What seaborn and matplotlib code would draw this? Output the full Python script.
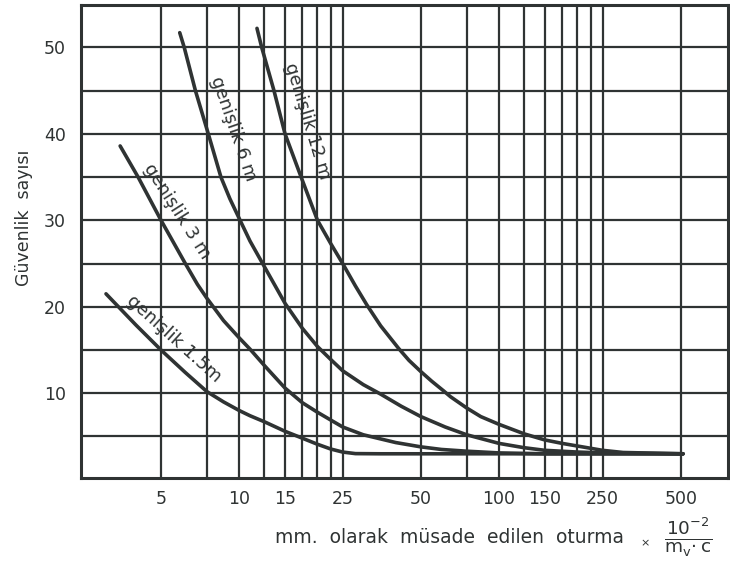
import matplotlib
matplotlib.use("Agg")
import matplotlib.pyplot as plt
import numpy as np
import pandas as pd
import seaborn as sns

# ---- data ----
x_15m = [3.07, 4.0, 5, 6.2, 7.5, 8.7, 10, 11, 12.5, 15, 17.5, 20, 22.5, 25, 28, 35, 510]
y_15m = [21.5, 17.9, 15, 12.4, 10.2, 9.0, 8.0, 7.4, 6.7, 5.6, 4.8, 4.1, 3.55, 3.2, 3.02, 3.0, 3.0]

x_3m = [3.48, 4.08, 5, 6.2, 6.9, 7.5, 8.7, 10, 11, 12.5, 15, 17.5, 20, 22.5, 25, 30, 40, 50, 60, 75, 100, 150, 510]
y_3m = [38.6, 35, 30, 25, 22.6, 21.0, 18.4, 16.4, 15.1, 13.2, 10.6, 8.9, 7.8, 6.9, 6.1, 5.2, 4.3, 3.8, 3.5, 3.3, 3.1, 3.0, 3.0]

x_6m = [5.9, 6.14, 6.78, 7.6, 8.5, 9.2, 10, 11, 12.3, 15, 17.5, 20, 22.5, 25, 30, 35, 42, 50, 62, 75, 100, 125, 150, 200, 250, 510]
y_6m = [51.7, 50, 45, 40, 35, 32.5, 30.2, 27.6, 25, 20.4, 17.5, 15.4, 13.9, 12.6, 11.0, 9.9, 8.5, 7.3, 6.1, 5.2, 4.2, 3.7, 3.4, 3.2, 3.1, 3.0]

x_12m = [11.7, 12.2, 13.6, 15, 17.3, 20, 22.5, 25, 28, 31, 35, 41, 45, 50, 55, 61, 65, 75, 85, 100, 125, 150, 175, 200, 250, 300, 510]
y_12m = [52.2, 50, 45, 40, 35, 30, 27.3, 25, 22.4, 20.2, 17.8, 15.2, 13.8, 12.5, 11.4, 10.3, 9.6, 8.3, 7.3, 6.4, 5.3, 4.6, 4.2, 3.9, 3.4, 3.15, 3.0]

curve_names = ["genişlik 1.5m", "genişlik 3 m", "genişlik 6 m", "genişlik 12 m"]

x_grid = [5, 7.5, 10, 12.5, 15, 17.5, 20, 22.5, 25, 50, 75, 100, 125, 150, 175, 200, 225, 250, 500]
x_labels = ["5", "", "10", "", "15", "", "", "", "25", "50", "", "100", "", "150", "", "", "", "250", "500"]
y_grid = [5, 10, 15, 20, 25, 30, 35, 40, 45, 50]
y_labels = ["", "10", "", "20", "", "30", "", "40", "", "50"]

y_title = "Güvenlik  sayısı"
x_title = "mm.  olarak  müsade  edilen  oturma"
x_unit = r"$\frac{10^{-2}}{\mathrm{m}_{\mathrm{v}}\!\cdot\mathrm{c}}$"

# ---- build table ----
frames = []
for name, xs, ys in zip(curve_names, [x_15m, x_3m, x_6m, x_12m], [y_15m, y_3m, y_6m, y_12m]):
    frames.append(pd.DataFrame({"x": xs, "y": ys, "curve": name}))
df = pd.concat(frames, ignore_index=True)

sns.set_theme(style="white")
plt.rcParams["font.family"] = ["DejaVu Sans"]
plt.rcParams["mathtext.fontset"] = "dejavusans"

ink = "#2f3333"
fig = plt.figure(figsize=(7.30, 5.72), dpi=100)
ax = fig.add_axes([81 / 730, 1 - 478 / 572, (728 - 81) / 730, (478 - 5) / 572])

for name in curve_names:
    sns.lineplot(data=df[df["curve"] == name], x="x", y="y", ax=ax, color=ink,
                 linewidth=2.6, sort=True, estimator=None, legend=False, zorder=3)

ax.set_xscale("log")
ax.set_xlim(2.46, 760)
ax.set_ylim(0.2, 54.9)

ax.set_xticks(x_grid)
ax.set_xticklabels(x_labels)
ax.xaxis.set_minor_locator(matplotlib.ticker.NullLocator())
ax.set_yticks(y_grid)
ax.set_yticklabels(y_labels)
ax.tick_params(axis="both", length=0, labelsize=12.5, colors=ink)
ax.tick_params(axis="x", pad=9)
ax.tick_params(axis="y", pad=11)
ax.grid(True, which="major", color=ink, linewidth=1.6)
ax.set_axisbelow(True)

for side in ["left", "bottom", "top", "right"]:
    ax.spines[side].set_color(ink)
    ax.spines[side].set_linewidth(2.2)

ax.set_ylabel(y_title, fontsize=12.5, color=ink)
ax.yaxis.set_label_coords(-0.074, 0.55)
ax.set_xlabel(x_title, fontsize=13.5, color=ink)
ax.xaxis.label.set_va("center")
ax.xaxis.set_label_coords(0.57, -0.125)

fig.text(645 / 730, 1 - 543 / 572, "×", fontsize=8, color=ink, ha="center", va="center")
fig.text(688 / 730, 1 - 537 / 572, x_unit, fontsize=19, color=ink, ha="center", va="center")

# curve labels (data position, angle in screen degrees, perpendicular offset in points)
label_pos = [(5.5, 16.1, -42, 2), (5.66, 30.9, -57.5, 2), (9.07, 40.4, -71, 4), (17.0, 41.2, -73, 6)]
for name, (lx, ly, ang, off) in zip(curve_names, label_pos):
    th = np.deg2rad(ang)
    ax.annotate(name, (lx, ly), xytext=(-np.sin(th) * off, np.cos(th) * off),
                textcoords="offset points", rotation=ang, rotation_mode="anchor",
                ha="center", va="center", fontsize=13, color=ink, zorder=4)

fig.savefig("out.png", dpi=100, facecolor="white")
